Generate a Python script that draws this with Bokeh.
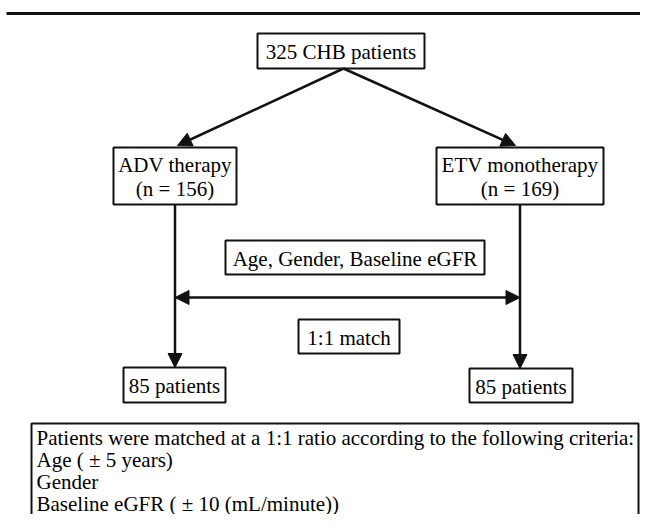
from bokeh.plotting import figure
from bokeh.models import Range1d, Arrow, NormalHead, ColumnDataSource
from bokeh.core.properties import value
from bokeh.embed import file_html
from bokeh.resources import INLINE

# ---------------- data ----------------
total_patients = 325
top_label = f"{total_patients} CHB patients"
group_names = ["ADV therapy", "ETV monotherapy"]
group_n = [156, 169]
matched_n = [85, 85]
match_vars_label = "Age, Gender, Baseline eGFR"
match_ratio_label = "1:1 match"
criteria_lines = [
    "Patients were matched at a 1:1 ratio according to the following criteria:",
    "Age ( \u00b1 5 years)",
    "Gender",
    "Baseline eGFR ( \u00b1 10 (mL/minute))",
]

# ---------------- layout (picture pixels) ----------------
FONT = value("Liberation Serif")
FS = "21px"
INK = "#111111"

top_box = (257, 424, 33, 68)            # left, right, top, bottom
group_boxes = [(113, 236, 147, 204), (436, 603, 147, 204)]
group_cx = [174.5, 519.5]
vars_box = (225, 484, 240, 274)
ratio_box = (298, 399, 319, 353)
matched_boxes = [(123, 225, 367, 402), (469, 572, 368, 402)]
crit_box = (31, 638, 423, 560)
crit_x = 36
crit_y0 = 437
crit_dy = 22

p = figure(width=640, height=514, output_backend="svg", toolbar_location=None,
           x_range=Range1d(0, 640), y_range=Range1d(514, 0),
           min_border=0)
p.axis.visible = False
p.grid.visible = False
p.outline_line_color = None
p.background_fill_color = "white"
p.border_fill_color = "white"

# top rule
p.line(x=[6, 660], y=[13, 13], line_color=INK, line_width=3)


def box(b, lw=2):
    l, r, t, bt = b
    p.quad(left=[l], right=[r], top=[t], bottom=[bt], fill_color="white",
           line_color=INK, line_width=lw)


def txt(xs, ys, texts, align="center"):
    src = ColumnDataSource(dict(x=xs, y=ys, t=texts))
    p.text(x="x", y="y", text="t", source=src, text_font=FONT, text_font_size=FS,
           text_align=align, text_baseline="middle", text_color="black")


def head():
    return NormalHead(size=14, fill_color=INK, line_color=INK, line_width=1)


def arrow(x0, y0, x1, y1, both=False):
    kw = {"start": head()} if both else {}
    p.add_layout(Arrow(end=head(), x_start=x0, y_start=y0, x_end=x1, y_end=y1,
                       line_color=INK, line_width=2.5, **kw))


# split arrows from top box
apex = (343, 68)
arrow(apex[0], apex[1], 177, 145)
arrow(apex[0], apex[1], 515, 145)

# vertical arrows down to matched boxes
for cx, mb in zip(group_cx, matched_boxes):
    arrow(cx, 204, cx, mb[2])

# double arrow
arrow(group_cx[0], 297, group_cx[1], 297, both=True)

# boxes
box(top_box)
for gb in group_boxes:
    box(gb)
box(vars_box)
box(ratio_box)
for mb in matched_boxes:
    box(mb)
box(crit_box)

# texts
txt([(top_box[0] + top_box[1]) / 2], [(top_box[2] + top_box[3]) / 2 + 1], [top_label])
for gb, name, n in zip(group_boxes, group_names, group_n):
    cx = (gb[0] + gb[1]) / 2
    txt([cx, cx], [164, 188], [name, f"(n = {n})"])
txt([(vars_box[0] + vars_box[1]) / 2], [(vars_box[2] + vars_box[3]) / 2 + 1], [match_vars_label])
txt([(ratio_box[0] + ratio_box[1]) / 2], [(ratio_box[2] + ratio_box[3]) / 2 + 1], [match_ratio_label])
for mb, n in zip(matched_boxes, matched_n):
    txt([(mb[0] + mb[1]) / 2], [(mb[2] + mb[3]) / 2 + 1], [f"{n} patients"])
txt([crit_x] * len(criteria_lines),
    [crit_y0 + i * crit_dy for i in range(len(criteria_lines))],
    criteria_lines, align="left")

open("out.html", "w").write(file_html(p, INLINE))
